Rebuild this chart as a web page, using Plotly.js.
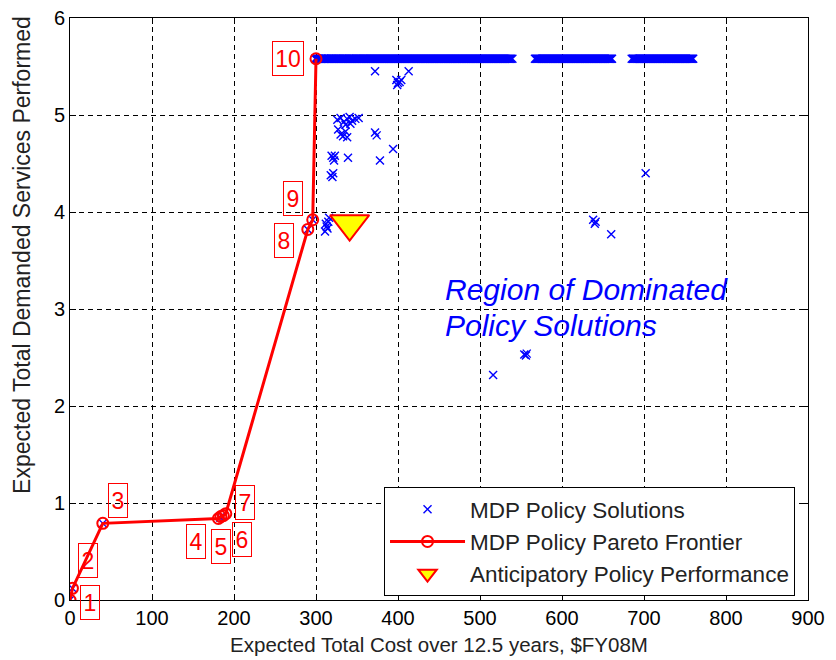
<!DOCTYPE html>
<html><head><meta charset="utf-8">
<script src="https://cdn.plot.ly/plotly-3.0.1.min.js"></script>
<style>html,body{margin:0;padding:0;background:#fff}</style>
</head><body><div id="chart" style="width:836px;height:660px"></div>
<script>
// Dense band of MDP solutions at the top level (read as a near-continuous run of points)
const bandLevel = 5.58;
const bandX = [299,300.5,302,304,305.5,308,309.5,311,313,315,317,318.5,320,323,324.5,326,329,331,333,335,338,339.5,341,344,346,348,350,353,356,357.5,359,362,365,368,371,374,377,379,381,383,386,389,391,393,395,398,401,403,405,407,410,413,416,419,421,423,425,428,431,434,437,440,443,446,449,452,455,458,461,463,465,467,470,473,476,479,482,485,488,491,494,497,500,503,506,509,512,515,518,521,524,527,530,533,536,538,539.5,
  567,568.5,570,572,574,576,579,582,585,588,590,592,594,597,600,603,606,609,612,614,616,618,621,624,627,630,633,636,639,642,645,648,651,654,657,659,661,
  685,686.5,688,691,694,697,700,703,706,709,712,715,718,721,724,727,730,733,736,739,742,745,748,751,754,757,760];
const bandX2 = [301,303,306,307,310,312,314,316,319,321,322,325,327,328,330,332,334,336,337,340,342,343,345,347,349,351,352,354,355,358,360,361,363,364,366,367,369,370,372,373,375,376,378,380,382,384,385,387,388,390,392,394,396,397,399,400,402,404,406,408,409,411,412,414,415,417,418,420,422,424,426,427,429,430,432,433,435,436,438,439,441,442,444,445,447,448,450,451,453,454,456,457,459,460,462,464,466,468,469,471,472,474,475,477,478,480,481,483,484,486,487,489,490,492,493,495,496,498,499,501,502,504,505,507,508,510,511,513,514,516,517,519,520,522,523,525,526,528,529,531,532,534,535,537,
  569,571,573,575,577,578,580,581,583,584,586,587,589,591,593,595,596,598,599,601,602,604,605,607,608,610,611,613,615,617,619,620,622,623,625,626,628,629,631,632,634,635,637,638,640,641,643,644,646,647,649,650,652,653,655,656,658,660,
  687,689,690,692,693,695,696,698,699,701,702,704,705,707,708,710,711,713,714,716,717,719,720,722,723,725,726,728,729,731,732,734,735,737,738,740,741,743,744,746,747,749,750,752,753,755,756,758,759];
// Other (scattered) MDP solutions
const scatX = [372,413,398,400,402,399,404,
  326,330,334,338,341,344,348,352,336,342,
  327,330,333,336,338,372,374,394,
  319,321,323,322,339,378,318,320,321,
  311,313,315,316,314,312,
  702,638,641,640,660,554,556,557,516,
  0,3,40,183,186,290,296,300];
const scatY = [5.45,5.45,5.36,5.33,5.34,5.31,5.36,
  4.95,4.97,4.93,4.96,4.98,4.94,4.96,4.97,4.90,4.91,
  4.85,4.80,4.78,4.83,4.77,4.82,4.79,4.65,
  4.58,4.56,4.58,4.53,4.56,4.53,4.38,4.36,4.40,
  3.80,3.85,3.90,3.94,3.83,3.88,
  4.40,3.92,3.90,3.88,3.77,2.53,2.52,2.54,2.32,
  0.00,0.12,0.79,0.85,0.86,3.82,3.92,5.58];
// Pareto frontier
const frontX = [0,3,40,181,184,187,190,290,296,300];
const frontY = [0,0.12,0.79,0.84,0.86,0.87,0.89,3.82,3.92,5.58];
const frontLabels = ['1','2','3','4','5','6','7','8','9','10'];
const labelX = [24,22,58.5,154,184,210,213,261,272,266];
const labelY = [0,0.41,1.03,0.60,0.55,0.62,1.01,3.71,4.14,5.58];
// Anticipatory policy
const antX = [341];
const antY = [3.88];

const xTicks = [0,100,200,300,400,500,600,700,800,900];
const yTicks = [0,1,2,3,4,5,6];

const allBandX = bandX.concat(bandX2);
const solAllX = allBandX.concat(scatX);
const solAllY = allBandX.map(() => bandLevel).concat(scatY);

const FONT = 'Arial, "Liberation Sans", sans-serif';
const traces = [
  {x: solAllX, y: solAllY, type: 'scatter', mode: 'markers', name: 'MDP Policy Solutions',
   marker: {symbol: 'x-thin-open', size: 8, color: '#0000ff', line: {color: '#0000ff', width: 1.4}}},
  {x: frontX, y: frontY, type: 'scatter', mode: 'lines+markers', name: 'MDP Policy Pareto Frontier',
   line: {color: '#ff0000', width: 3},
   marker: {symbol: 'circle-open', size: 11, color: '#ff0000', line: {color: '#ff0000', width: 2}}},
  {x: antX, y: antY, type: 'scatter', mode: 'markers', name: 'Anticipatory Policy Performance',
   marker: {symbol: 'triangle-down', size: 34, color: '#ffff00', line: {color: '#ff0000', width: 2}}}
];

const annotations = frontLabels.map((t, i) => ({
  x: labelX[i], y: labelY[i], xref: 'x', yref: 'y', text: t, showarrow: false,
  yshift: i === 0 ? -2 : 0,
  width: t.length > 1 ? 26 : 14, height: 29, align: 'center', valign: 'middle',
  font: {family: FONT, size: 23, color: '#ff0000'},
  bordercolor: '#ff0000', borderwidth: 1, borderpad: 2, bgcolor: 'rgba(255,255,255,0)'
}));
annotations.push({x: 455, y: 3.2, xref: 'x', yref: 'y', xanchor: 'left', text: '<i>Region of Dominated</i>',
  showarrow: false, font: {family: FONT, size: 30, color: '#0000ff'}});
annotations.push({x: 455, y: 2.83, xref: 'x', yref: 'y', xanchor: 'left', text: '<i>Policy Solutions</i>',
  showarrow: false, font: {family: FONT, size: 30, color: '#0000ff'}});
// y-axis title, placed where the reference shows it (above the plot's middle)
annotations.push({x: -0.065, y: 0.593, xref: 'paper', yref: 'paper', xanchor: 'center', yanchor: 'middle',
  textangle: -90, text: 'Expected Total Demanded Services Performed', showarrow: false,
  font: {family: FONT, size: 23, color: '#222'}});

const axisCommon = {
  showline: true, linecolor: '#000', linewidth: 1, mirror: 'ticks',
  ticks: 'inside', ticklen: 6, tickcolor: '#000',
  showgrid: true, gridcolor: '#000', gridwidth: 1, griddash: '5px,4px',
  zeroline: false, tickfont: {family: FONT, size: 20, color: '#000'}
};

const layout = {
  width: 836, height: 660,
  margin: {l: 70, r: 28, t: 18, b: 60},
  paper_bgcolor: '#fff', plot_bgcolor: '#fff',
  showlegend: true,
  legend: {x: 0.4255, y: 0.194, xanchor: 'left', yanchor: 'top', bgcolor: '#fff',
    bordercolor: '#000', borderwidth: 1, itemwidth: 75,
    font: {family: FONT, size: 22.5, color: '#222'}},
  xaxis: Object.assign({}, axisCommon, {range: [0, 900], tickvals: xTicks, ticktext: xTicks.map(String),
    title: {text: 'Expected Total Cost over 12.5 years, $FY08M', font: {family: FONT, size: 20.5, color: '#222'}, standoff: 9}}),
  yaxis: Object.assign({}, axisCommon, {range: [0, 6], tickvals: yTicks, ticktext: yTicks.map(String)}),
  annotations: annotations
};

Plotly.newPlot('chart', traces, layout, {displayModeBar: false, staticPlot: true});
</script></body></html>
